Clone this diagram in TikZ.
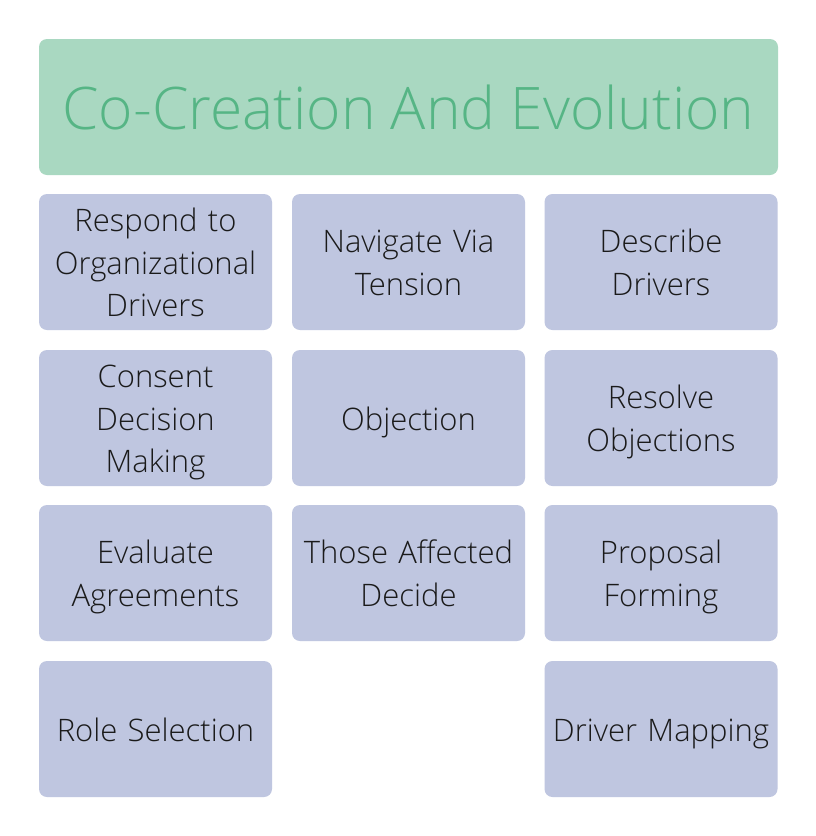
\documentclass[tikz,border=0pt]{standalone}
\usepackage{fontspec}
\setmainfont{Open Sans Light}
\definecolor{titlefill}{HTML}{A9D8C1}
\definecolor{titletext}{HTML}{56B585}
\definecolor{cellfill}{HTML}{BFC6E0}
\definecolor{celltext}{HTML}{1A1A1A}
% line box of the font: ascent 1.069em, descent 0.293em
\newcommand{\linestrut}{\rule[-0.293em]{0pt}{1.362em}}
\tikzset{
  cell/.style={fill=cellfill, draw=none, rounded corners=8pt,
    text width=233pt, minimum height=136pt, inner sep=0pt,
    align=center, text=celltext,
    font=\fontsize{31}{42.6}\selectfont,
    execute at begin node=\linestrut, execute at end node=\linestrut},
  titlecell/.style={fill=titlefill, draw=none, rounded corners=8pt,
    minimum width=739pt, minimum height=136pt, inner sep=0pt,
    text=titletext, font=\fontsize{58.7}{80}\selectfont,
    execute at begin node=\linestrut}
}
\begin{document}
\begin{tikzpicture}[x=1pt, y=-1pt]
\def\xa{155.5}
\def\xb{408.5}
\def\xc{661}

\def\ya{262}
\def\yb{418}
\def\yc{573}
\def\yd{729}

\useasboundingbox (0,0) rectangle (816,836);
\fill[white] (0,0) rectangle (816,836);

\node[titlecell] (title) at (408.5,107) {Co-Creation And Evolution};

\node[cell] (respond) at (\xa,\ya) {Respond to\\Organizational\\Drivers};
\node[cell] (navigate) at (\xb,\ya) {Navigate Via\\Tension};
\node[cell] (describe) at (\xc,\ya) {Describe\\Drivers};

\node[cell] (consent) at (\xa,\yb) {Consent\\Decision\\Making};
\node[cell] (objection) at (\xb,\yb) {Objection};
\node[cell] (resolve) at (\xc,\yb) {Resolve\\Objections};

\node[cell] (evaluate) at (\xa,\yc) {Evaluate\\Agreements};
\node[cell] (affected) at (\xb,\yc) {Those Affected\\Decide};
\node[cell] (proposal) at (\xc,\yc) {Proposal\\Forming};

\node[cell] (role) at (\xa,\yd) {Role Selection};
\node[cell] (mapping) at (\xc,\yd) {Driver Mapping};

\end{tikzpicture}
\end{document}
